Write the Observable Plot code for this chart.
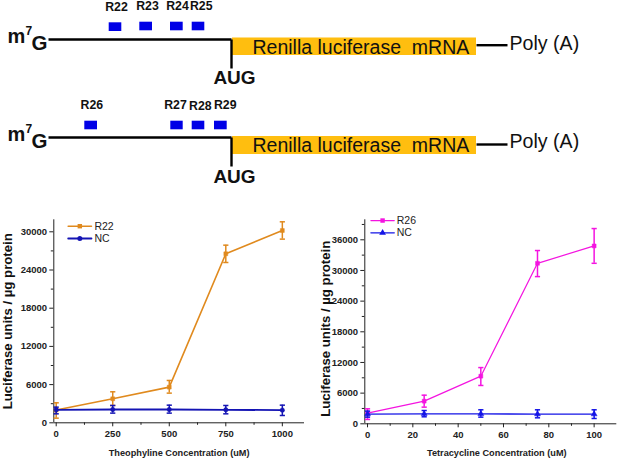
<!DOCTYPE html>
<html>
<head>
<meta charset="utf-8">
<script src="https://cdn.jsdelivr.net/npm/d3@7"></script>
<script src="https://cdn.jsdelivr.net/npm/@observablehq/plot@0.6"></script>
<style>
html,body{margin:0;padding:0;background:#fff}
#page{position:relative;width:617px;height:458px;overflow:hidden;font-family:"Liberation Sans",Arial,sans-serif}
#page svg{position:absolute;display:block;background:transparent;max-width:none}
</style>
</head>
<body>
<div id="page"></div>
<script>
// ---------- Chart data ----------
const theoDose = [0, 250, 500, 750, 1000];
const r22Mean = [2000, 3770, 5600, 26550, 30200];
const r22Low  = [730, 2720, 4660, 25180, 28850];
const r22High = [3140, 4870, 6650, 27900, 31570];
const nc1Mean = [2040, 2090, 2090, 2040, 1990];
const nc1Low  = [1410, 1520, 1520, 1410, 1150];
const nc1High = [2460, 2720, 2770, 2720, 2770];

const tetDose = [0, 25, 50, 75, 100];
const r26Mean = [2090, 4430, 9320, 31400, 34800];
const r26Low  = [850, 3260, 7500, 28800, 31400];
const r26High = [2930, 5600, 11000, 33900, 38200];
const nc2Mean = [1890, 1950, 1950, 1890, 1890];
const nc2Low  = [1300, 1370, 1300, 1170, 1040];
const nc2High = [2480, 2600, 2740, 2740, 2740];

const theoTicks = [0, 250, 500, 750, 1000];
const theoMinor = [125, 375, 625, 875];
const tetTicks = [0, 20, 40, 60, 80, 100];
const tetMinor = [10, 30, 50, 70, 90];
const y1Ticks = [0, 6000, 12000, 18000, 24000, 30000];
const y1Minor = [3000, 9000, 15000, 21000, 27000];
const y2Ticks = [0, 6000, 12000, 18000, 24000, 30000, 36000];
const y2Minor = [3000, 9000, 15000, 21000, 27000, 33000, 39000];

// ---------- Schematic data (diagram units) ----------
const siteLabels = ["R22","R23","R24","R25","R26","R27","R28","R29"];
const siteLabelX = [116, 147, 177, 200.7, 91.3, 175, 199.8, 224.7];
const siteLabelY = [6.7, 6, 5.5, 5.5, 105, 105, 106, 105];
const siteBoxX1 = [108.7, 139.3, 170, 191.7, 84.3, 170.3, 191.7, 214];
const siteBoxX2 = [121.3, 152, 182.7, 204.3, 97, 182.7, 204.3, 226.7];
const siteBoxY1 = [22.3, 21.7, 21.7, 21.7, 120.7, 120.7, 120.7, 120.7];
const siteBoxY2 = [31, 30.3, 30.3, 30.3, 129.3, 129.3, 129.3, 129.3];

const rowLeaderY = [39, 137];
const rowStemEnd = [68, 166];
const rowOrfTop = [37.5, 136];
const rowOrfBottom = [55, 154];
const rowTailY = [44.7, 144];
const rowPolyY = [43, 141.5];
const rowAugY = [77.5, 176.5];
const rowCapY = [43, 141];

const leaderX = [48, 231];
const orfX = [232, 476];
const tailX = [476, 507];

const COL = {r22:"#E08A1E", nc1:"#1414B4", r26:"#F414E0", nc2:"#1414E6", orf:"#FFBE0F", site:"#0000E6", ink:"#111"};
const FONT = '"Liberation Sans", Arial, sans-serif';
const cap = {draw(c){c.moveTo(-2.6,0);c.lineTo(2.6,0);}};

function mount(svg, left, top){
  svg.style.left = left + "px";
  svg.style.top = top + "px";
  document.getElementById("page").appendChild(svg);
}

// ---------- Schematic ----------
const rows = [0, 1];
const siteRows = siteLabels.map((label, i) => ({label, lx: siteLabelX[i], ly: siteLabelY[i], x1: siteBoxX1[i], x2: siteBoxX2[i], y1: siteBoxY1[i], y2: siteBoxY2[i]}));
const segs = rows.flatMap(r => [
  {x1: leaderX[0], x2: leaderX[1], y1: rowLeaderY[r], y2: rowLeaderY[r]},
  {x1: leaderX[1], x2: leaderX[1], y1: rowLeaderY[r], y2: rowStemEnd[r]},
  {x1: tailX[0], x2: tailX[1], y1: rowTailY[r], y2: rowTailY[r]}
]);
const txt = (text, xs, ys, o) => Plot.text(xs.map((x,i)=>({x,y:ys[i]})), {x:"x", y:"y", text:()=>text, fill:COL.ink, fontFamily:FONT, lineAnchor:"middle", ...o});

mount(Plot.plot({
  width: 617, height: 190, margin: 0,
  x: {axis: null, domain: [0, 617]},
  y: {axis: null, domain: [190, 0]},
  marks: [
    Plot.rect(rows, {x1: orfX[0], x2: orfX[1], y1: r => rowOrfTop[r], y2: r => rowOrfBottom[r], fill: COL.orf, inset: 0}),
    Plot.link(segs, {x1:"x1", x2:"x2", y1:"y1", y2:"y2", stroke:"#000", strokeWidth:2.4}),
    Plot.rect(siteRows, {x1:"x1", x2:"x2", y1:"y1", y2:"y2", fill:COL.site, inset:0}),
    Plot.text(siteRows, {x:"lx", y:"ly", text:"label", fontSize:12.3, fontWeight:"bold", fill:COL.ink, fontFamily:FONT}),
    txt("Renilla luciferase  mRNA", [252, 252], [rowOrfTop[0]+9.5, rowOrfTop[1]+9.5], {fontSize:19.5, textAnchor:"start", style:"white-space:pre"}),
    txt("Poly (A)", [509, 509], rowPolyY, {fontSize:19.6, textAnchor:"start"}),
    txt("AUG", [234, 234], rowAugY, {fontSize:19, fontWeight:"bold"}),
    txt("m", [7, 7], rowCapY.map(y=>y-6.5), {fontSize:20, fontWeight:"bold", textAnchor:"start"}),
    txt("7", [25, 25], rowCapY.map(y=>y-12.5), {fontSize:12, fontWeight:"bold", textAnchor:"start"}),
    txt("G", [31, 31], rowCapY, {fontSize:20.5, fontWeight:"bold", textAnchor:"start"})
  ]
}), 0, 0);

// ---------- Charts ----------
function chart(cfg){
  const A = cfg.dose.map((x,i)=>({x, y:cfg.aMean[i], lo:cfg.aLow[i], hi:cfg.aHigh[i]}));
  const B = cfg.dose.map((x,i)=>({x, y:cfg.bMean[i], lo:cfg.bLow[i], hi:cfg.bHigh[i]}));
  const series = (d, color, symbol, w) => [
    Plot.line(d, {x:"x", y:"y", stroke:color, strokeWidth:w}),
    Plot.ruleX(d, {x:"x", y1:"lo", y2:"hi", stroke:color, strokeWidth:1.5}),
    Plot.dot(d, {x:"x", y:"lo", symbol:cap, stroke:color, strokeWidth:1.5, fill:"none"}),
    Plot.dot(d, {x:"x", y:"hi", symbol:cap, stroke:color, strokeWidth:1.5, fill:"none"}),
    Plot.dot(d, {x:"x", y:"y", symbol, r:cfg.r, fill:color, stroke:color, strokeWidth:.5})
  ];
  const legend = (name, color, symbol, ly, w) => [
    Plot.line(cfg.legX.map(x=>({x,y:ly})), {x:"x", y:"y", stroke:color, strokeWidth:w}),
    Plot.dot([{x:(cfg.legX[0]+cfg.legX[1])/2, y:ly}], {x:"x", y:"y", symbol, r:cfg.r+.3, fill:color}),
    Plot.text([name], {x:cfg.legTextX, y:ly, text:d=>d, textAnchor:"start", fontSize:10.5, fill:"#222", fontFamily:FONT})
  ];
  return Plot.plot({
    width:310, height:268,
    marginLeft:cfg.ml, marginRight:cfg.mr, marginTop:29.3, marginBottom:cfg.mb,
    style:{fontFamily:FONT, color:"#222"},
    x:{domain:cfg.xDomain},
    y:{domain:cfg.yDomain},
    marks:[
      Plot.axisX({ticks:cfg.xTicks, tickSize:4, tickPadding:3, tickFormat:"d", fontSize:9.5, fontWeight:"bold", label:null}),
      Plot.axisX({ticks:cfg.xMinor, tickSize:2.5, text:null, label:null}),
      Plot.axisY({ticks:cfg.yTicks, tickSize:4, tickPadding:2.7, tickFormat:"d", fontSize:9.5, fontWeight:"bold", label:null}),
      Plot.axisY({ticks:cfg.yMinor, tickSize:2.5, text:null, label:null}),
      Plot.ruleX([cfg.xDomain[0]], {stroke:"#222", strokeWidth:1}),
      Plot.ruleY([0], {stroke:"#222", strokeWidth:1}),
      ...series(A, cfg.aColor, cfg.aSym, cfg.aW),
      ...series(B, cfg.bColor, cfg.bSym, cfg.bW),
      ...legend(cfg.aName, cfg.aColor, cfg.aSym, cfg.legY[0], cfg.aW),
      ...legend(cfg.bName, cfg.bColor, cfg.bSym, cfg.legY[1], cfg.bW),
      Plot.text([cfg.xLabel], {frameAnchor:"bottom", lineAnchor:"middle", textAnchor:"middle", dx:cfg.xLabelDx, dy:cfg.xLabelDy, text:d=>d, fontSize:9.2, fontWeight:"bold", fill:"#222", fontFamily:FONT}),
      Plot.text([cfg.yLabel], {frameAnchor:"left", lineAnchor:"middle", textAnchor:"middle", rotate:-90, dx:cfg.yLabelDx, dy:cfg.yLabelDy, text:d=>d, fontSize:13.2, fontWeight:"bold", fill:"#111", fontFamily:FONT})
    ]
  });
}

mount(chart({
  dose:theoDose, aMean:r22Mean, aLow:r22Low, aHigh:r22High, bMean:nc1Mean, bLow:nc1Low, bHigh:nc1High,
  aColor:COL.r22, bColor:COL.nc1, aSym:"square", bSym:"circle", aName:"R22", bName:"NC", aW:1.6, bW:1.8, r:2.2,
  ml:53.3, mr:6, mb:35.7, xDomain:[-10.6,1098], yDomain:[0,31885],
  xTicks:theoTicks, xMinor:theoMinor, yTicks:y1Ticks, yMinor:y1Minor,
  legX:[53,156], legY:[30880,28950], legTextX:169,
  xLabel:"Theophyline Concentration (uM)", yLabel:"Luciferase units / µg protein",
  xLabelDx:0, xLabelDy:30.4, yLabelDx:-46, yLabelDy:0
}), 0, 190);

mount(chart({
  dose:tetDose, aMean:r26Mean, aLow:r26Low, aHigh:r26High, bMean:nc2Mean, bLow:nc2Low, bHigh:nc2High,
  aColor:COL.r26, bColor:COL.nc2, aSym:"square", bSym:"triangle", aName:"R26", bName:"NC", aW:1.2, bW:1.4, r:2.2,
  ml:57.3, mr:0.7, mb:34.7, xDomain:[-1.2,110], yDomain:[0,39913],
  xTicks:tetTicks, xMinor:tetMinor, yTicks:y2Ticks, yMinor:y2Minor,
  legX:[1.5,11.8], legY:[39770,37360], legTextX:12.9,
  xLabel:"Tetracycline Concentration (uM)", yLabel:"Luciferase units / µg protein",
  xLabelDx:6, xLabelDy:29.4, yLabelDx:-39, yLabelDy:7
}), 307, 190);
</script>
</body>
</html>
